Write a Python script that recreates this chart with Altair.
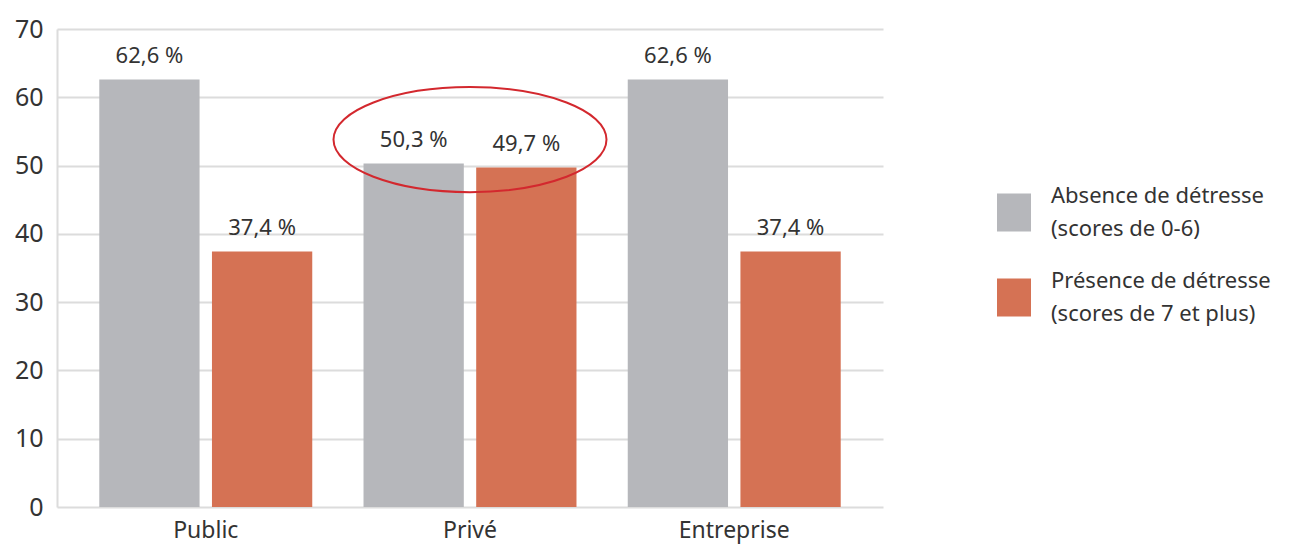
import altair as alt
import pandas as pd

categories = ["Public", "Privé", "Entreprise"]
series = ["Absence de détresse\n(scores de 0-6)", "Présence de détresse\n(scores de 7 et plus)"]
absence = [62.6, 50.3, 62.6]
presence = [37.4, 49.7, 37.4]
y_ticks = [0, 10, 20, 30, 40, 50, 60, 70]
colors = ["#b6b7bb", "#d57254"]
highlight_category = "Privé"
highlight_level = 53.8


def fmt(v):
    return f"{v:.1f}".replace(".", ",") + " %"


rows = []
for i, c in enumerate(categories):
    for s, vals in zip(series, [absence, presence]):
        rows.append({"cat": c, "serie": s, "val": vals[i], "label": fmt(vals[i])})
df = pd.DataFrame(rows)
df_hl = pd.DataFrame({"cat": [highlight_category], "val": [highlight_level]})

x_enc = alt.X(
    "cat:N",
    sort=categories,
    scale=alt.Scale(paddingInner=0.194, paddingOuter=0.16),
    axis=alt.Axis(title=None, labelAngle=0, labelFontSize=23, labelColor="#333333",
                  labelPadding=12, ticks=False, domain=False, grid=False),
)
y_enc = alt.Y(
    "val:Q",
    scale=alt.Scale(domain=[0, 70], nice=False),
    axis=alt.Axis(title=None, values=y_ticks, labelFontSize=25, labelColor="#333333",
                  labelPadding=14, ticks=False, domain=True, domainColor="#dcdcdc",
                  domainWidth=2, gridColor="#dcdcdc", gridWidth=2),
)
xoff = alt.XOffset("serie:N", sort=series, scale=alt.Scale(paddingInner=0.11))

# legend swatch: slightly tall rectangle, centred on the two label lines
legend_swatch = "M -1 -0.148 L 1 -0.148 L 1 2.088 L -1 2.088 Z"

bars = alt.Chart(df).mark_bar().encode(
    x=x_enc,
    xOffset=xoff,
    y=y_enc,
    color=alt.Color(
        "serie:N",
        sort=series,
        scale=alt.Scale(domain=series, range=colors),
        legend=alt.Legend(
            title=None, orient="none", legendX=940, legendY=150,
            symbolType=legend_swatch, symbolSize=1156, symbolStrokeWidth=0,
            labelFontSize=22, labelColor="#333333", labelOffset=20,
            labelExpr="split(datum.label, '\\n')", labelLimit=400, rowPadding=24,
        ),
    ),
)

texts = alt.Chart(df).mark_text(baseline="alphabetic", dy=-17, fontSize=22, color="#333333").encode(
    x=alt.X("cat:N", sort=categories),
    xOffset=xoff,
    y="val:Q",
    text="label:N",
)

k = 0.385
kk = 0.5523
ellipse_path = (
    f"M -1 0 C -1 {-k*kk:.4f} {-kk} {-k} 0 {-k} "
    f"C {kk} {-k} 1 {-k*kk:.4f} 1 0 "
    f"C 1 {k*kk:.4f} {kk} {k} 0 {k} "
    f"C {-kk} {k} -1 {k*kk:.4f} -1 0 Z"
)

ellipse = alt.Chart(df_hl).mark_point(
    shape=ellipse_path, size=273 * 273, filled=False, fill="transparent",
    stroke="#d3282e", strokeWidth=2, opacity=1,
).encode(x=alt.X("cat:N", sort=categories), y="val:Q")

chart = (
    alt.layer(bars, texts, ellipse)
    .properties(
        width=826, height=478,
        autosize=alt.AutoSizeParams(type="none"),
        padding={"left": 49, "top": 21, "right": 405, "bottom": 38},
    )
    .configure(font="Noto Sans", style={"guide-label": {"lineHeight": 33}})
    .configure_view(stroke=None)
)

chart.save("out.html", embed_options={"renderer": "svg", "actions": False})
